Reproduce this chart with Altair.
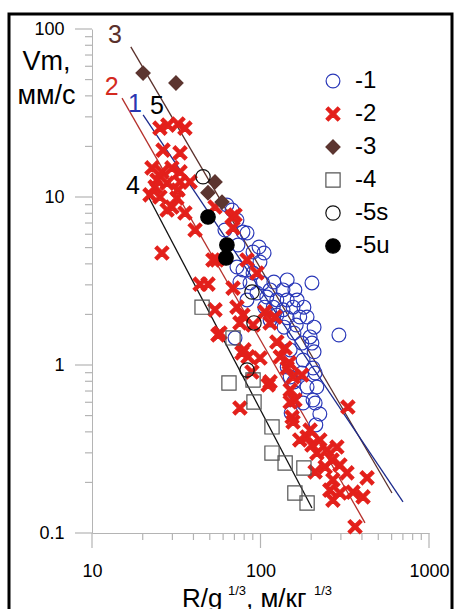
import altair as alt
import pandas as pd

# ---- data (log-log axes) ----
s1_x = [63.2, 67.8, 72.5, 78.7, 73.5, 83.2, 98.0, 90.3, 105, 72.5, 78.7, 90.3, 75.5, 86.6, 103, 120, 144,
        114, 136, 160, 95.3, 109, 125, 144, 165, 83.2, 106, 119, 136, 156, 181, 125, 144, 171, 189, 208,
        158, 138, 197, 176, 202, 150, 208, 179, 205, 144, 176, 211, 150, 158, 189, 216, 160, 205, 152,
        179, 211, 225, 213, 292, 70.6, 61.5, 99.3, 114, 163, 202]
s1_y = [8.96, 8.37, 7.30, 6.19, 5.18, 6.11, 5.04, 4.71, 4.64, 3.83, 3.68, 3.53, 3.12, 3.08, 3.08, 3.12, 3.21,
        2.80, 2.80, 2.80, 2.68, 2.54, 2.44, 2.44, 2.44, 2.44, 2.21, 2.21, 2.13, 2.21, 2.21, 1.98, 1.91, 1.93, 1.93, 1.68,
        1.55, 1.68, 1.47, 1.35, 1.35, 1.23, 1.20, 1.07, 0.960, 0.973, 0.896, 0.896, 0.848, 0.793, 0.740, 0.740, 0.681, 0.619, 0.518,
        0.594, 0.594, 0.511, 0.440, 1.51, 1.45, 6.36, 4.10, 1.85, 1.73, 3.08]

s2_x = [25.3, 28.2, 32.4, 35.6, 26.4, 33.3, 22.7, 26.0, 29.8, 33.3, 24.3, 27.9, 33.3, 23.7, 32.4, 25.3, 31.9,
        22.1, 29.8, 27.9, 35.6, 40.9, 26.0, 55.2, 43.8, 48.8, 53.7, 55.9, 53.7, 67.8, 68.7, 52.2, 83.2, 95.3,
        68.7, 72.5, 78.7, 106, 122, 90.3, 75.5, 114, 57.5, 77.6, 84.3, 99.3, 89.0, 111, 75.5, 131, 144, 156,
        150, 160, 154, 70.6, 125, 140, 148, 176, 114, 79.8, 156, 330, 189, 216, 248, 284, 266, 242, 296, 211,
        326, 269, 429, 258, 296, 269, 354, 406, 364, 38.2, 197, 171, 225, 150, 202]
s2_y = [25.7, 26.8, 27.2, 25.7, 19.0, 18.3, 14.9, 14.1, 14.9, 14.1, 12.6, 12.1, 12.3, 11.5, 11.0, 10.0, 9.86,
        10.3, 8.72, 8.37, 8.03, 6.36, 4.64, 4.22, 3.03, 3.03, 2.13, 1.51, 8.72, 7.60, 6.54, 4.22, 4.22, 3.53,
        2.87, 2.21, 1.98, 2.07, 1.93, 1.73, 1.78, 1.78, 1.55, 1.18, 1.12, 1.10, 0.909, 0.760, 0.555, 1.12, 0.960, 0.848,
        0.710, 0.619, 0.490, 7.81, 1.37, 1.26, 1.03, 0.872, 0.793, 1.23, 0.458, 0.562, 0.373, 0.299, 0.312, 0.325, 0.272, 0.247, 0.254, 0.231,
        0.228, 0.207, 0.213, 0.180, 0.173, 0.157, 0.175, 0.164, 0.109, 12.3, 0.410, 0.358, 0.358, 0.602, 0.334]

s3_x = [20.1, 31.5, 53.7, 48.8, 59.1]
s3_y = [54.7, 47.7, 12.3, 10.6, 9.33]

s4_x = [45.0, 68.7, 65.0, 90.3, 91.5, 117, 117, 140, 181, 160, 189]
s4_y = [2.21, 1.45, 0.782, 0.815, 0.602, 0.428, 0.299, 0.261, 0.244, 0.173, 0.151]

s5s_x = [45.6, 89.0, 91.5, 83.2]
s5s_y = [13.2, 2.72, 1.78, 0.934]

s5u_x = [48.8, 63.2, 62.4]
s5u_y = [7.60, 5.18, 4.34]

series_names = ["1", "2", "3", "4", "5s", "5u"]

# regression lines: name, start (R, V), end (R, V)
line_names = ["3", "2", "1", "4"]
line_x0 = [17.0, 15.07, 20.1, 20.6]
line_y0 = [78.2, 38.8, 30.8, 11.0]
line_x1 = [603, 417, 701, 202]
line_y1 = [0.173, 0.115, 0.153, 0.141]
line_colors = ["#5a302b", "#b5312c", "#1c2a8c", "#111111"]

# line labels
lab_text = ["3", "2", "1", "5", "4"]
lab_x = [13.7, 13.1, 18.0, 24.3, 17.5]
lab_y = [92.1, 45.2, 35.8, 34.8, 11.6]
lab_colors = ["#5a302b", "#d42a20", "#2a35b0", "#000000", "#000000"]

x_major = [10, 100, 1000]
x_minor = [20, 30, 40, 50, 60, 70, 80, 90, 200, 300, 400, 500, 600, 700, 800, 900]
y_major = [0.1, 1, 10, 100]
y_minor = [0.2, 0.3, 0.4, 0.5, 0.6, 0.7, 0.8, 0.9, 2, 3, 4, 5, 6, 7, 8, 9,
           20, 30, 40, 50, 60, 70, 80, 90]

# ---- tables ----
rows = []
for name, xs, ys in zip(series_names, [s1_x, s2_x, s3_x, s4_x, s5s_x, s5u_x],
                        [s1_y, s2_y, s3_y, s4_y, s5s_y, s5u_y]):
    for x, y in zip(xs, ys):
        rows.append({"R": x, "V": y, "series": name})
pts = pd.DataFrame(rows)

lrows = []
for n, a, b, c, d in zip(line_names, line_x0, line_y0, line_x1, line_y1):
    lrows.append({"line": n, "R": a, "V": b, "o": 0})
    lrows.append({"line": n, "R": c, "V": d, "o": 1})
lines = pd.DataFrame(lrows)

labs = pd.DataFrame({"t": lab_text, "R": lab_x, "V": lab_y})

FONT = "Liberation Sans"
TICK = "#b4b4b4"
X_PATH = ("M-1,-0.67L-0.67,-1L0,-0.33L0.67,-1L1,-0.67L0.33,0L1,0.67L0.67,1"
          "L0,0.33L-0.67,1L-1,0.67L-0.33,0Z")

xscale = alt.Scale(type="log", domain=[10, 1000], nice=False)
yscale = alt.Scale(type="log", domain=[0.1, 100], nice=False)

xaxis = alt.Axis(values=x_major, title=None, grid=False, domainColor=TICK, ticks=False,
                 format="~g", labelFontSize=18, labelFont=FONT, labelColor="black",
                 labelPadding=29, labelOverlap=False, labelFlush=False)
yaxis = alt.Axis(values=y_major, grid=False, domainColor=TICK, ticks=False,
                 format="~g", labelFontSize=18, labelFont=FONT, labelColor="black",
                 labelPadding=28, labelOverlap=False, labelFlush=False,
                 title=["Vm,", "мм/с"], titleAngle=0, titleAlign="center",
                 titleX=-46, titleY=40, titleBaseline="alphabetic",
                 titleFontSize=27, titleFont=FONT, titleFontWeight="normal",
                 titleLineHeight=34, titleColor="black")

X = alt.X("R:Q", scale=xscale, axis=xaxis)
Y = alt.Y("V:Q", scale=yscale, axis=yaxis)

leg = alt.Legend(orient="none", legendX=229, legendY=40, title=None,
                 labelExpr="'-' + datum.label", labelFontSize=24, labelFont=FONT,
                 labelColor="black", symbolStrokeWidth=1.2, rowPadding=9,
                 labelOffset=10, padding=0)

frame = alt.Chart(alt.Data(values=[{}])).mark_rect(
    fill="transparent", stroke="black", strokeWidth=3
).encode(x=alt.value(-83), x2=alt.value(360), y=alt.value(-15), y2=alt.value(600))

# tick marks drawn from the tick values through the scales
xt_major = alt.Chart(pd.DataFrame({"R": x_major})).mark_rule(color=TICK, strokeWidth=1.2).encode(
    x=X, y=alt.value(504), y2=alt.value(519))
xt_minor = alt.Chart(pd.DataFrame({"R": x_minor})).mark_rule(color=TICK, strokeWidth=1.2).encode(
    x=X, y=alt.value(504), y2=alt.value(511))
yt_major = alt.Chart(pd.DataFrame({"V": y_major})).mark_rule(color=TICK, strokeWidth=1.2).encode(
    y=Y, x=alt.value(-17), x2=alt.value(0))
yt_minor = alt.Chart(pd.DataFrame({"V": y_minor})).mark_rule(color=TICK, strokeWidth=1.2).encode(
    y=Y, x=alt.value(-7), x2=alt.value(0))

line_layer = alt.Chart(lines).mark_line(strokeWidth=1.3).encode(
    x=X, y=Y, order="o:Q",
    color=alt.Color("line:N", scale=alt.Scale(domain=line_names, range=line_colors), legend=None),
)

point_layer = alt.Chart(pts).mark_point(opacity=1, strokeWidth=1.2, filled=False).encode(
    x=X, y=Y,
    shape=alt.Shape("series:N", scale=alt.Scale(domain=series_names,
                    range=["circle", X_PATH, "diamond", "square", "circle", "circle"]), legend=leg),
    stroke=alt.Stroke("series:N", scale=alt.Scale(domain=series_names,
                      range=["#2a38b8", "#e3201b", "#5c3530", "#555555", "#111111", "#000000"]), legend=leg),
    fill=alt.Fill("series:N", scale=alt.Scale(domain=series_names,
                  range=["transparent", "#e3201b", "#5c3530", "transparent", "transparent", "#000000"]), legend=leg),
    size=alt.Size("series:N", scale=alt.Scale(domain=series_names,
                  range=[190, 210, 140, 190, 256, 300]), legend=leg),
)

label_layer = alt.Chart(labs).mark_text(fontSize=25, font=FONT, align="center", baseline="middle").encode(
    x=X, y=Y, text="t:N",
    color=alt.Color("t:N", scale=alt.Scale(domain=lab_text, range=lab_colors), legend=None),
)

title_parts = alt.Chart(alt.Data(values=[{}]))
t1 = title_parts.mark_text(text="R/g", fontSize=26, font=FONT, align="left", baseline="alphabetic").encode(
    x=alt.value(90), y=alt.value(578))
t2 = title_parts.mark_text(text="1/3", fontSize=13, font=FONT, align="left", baseline="alphabetic").encode(
    x=alt.value(136), y=alt.value(566))
t3 = title_parts.mark_text(text=", м/кг", fontSize=26, font=FONT, align="left", baseline="alphabetic").encode(
    x=alt.value(154), y=alt.value(578))
t4 = title_parts.mark_text(text="1/3", fontSize=13, font=FONT, align="left", baseline="alphabetic").encode(
    x=alt.value(222), y=alt.value(566))

chart = alt.layer(frame, xt_major, xt_minor, yt_major, yt_minor, line_layer, point_layer,
                  label_layer, t1, t2, t3, t4).resolve_scale(
    color="independent"
).properties(
    width=337, height=504,
    padding={"left": 92, "top": 29, "right": 25, "bottom": 76},
    autosize=alt.AutoSizeParams(type="none"),
    background="white",
).configure_view(stroke=None)

chart.save("out.html", embed_options={"renderer": "svg", "actions": False})
